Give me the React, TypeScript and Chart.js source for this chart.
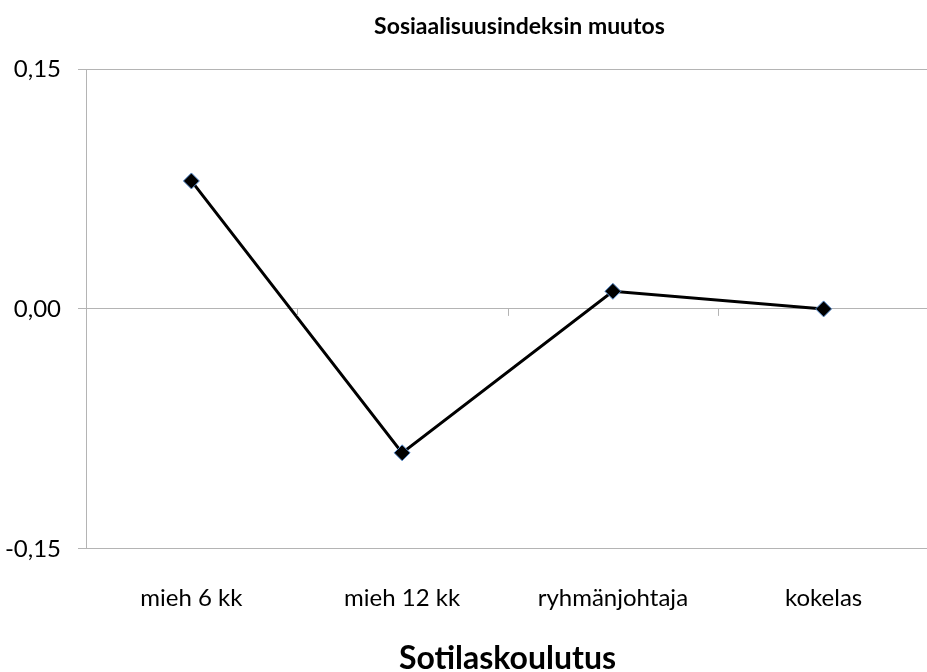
import React, { useEffect, useRef } from "react";
import { Chart, registerables } from "chart.js";

Chart.register(...registerables);

const categories = ["mieh 6 kk", "mieh 12 kk", "ryhmänjohtaja", "kokelas"];
const values = [0.08, -0.09, 0.011, 0.0];
const yTicks = [-0.15, 0, 0.15];
const chartTitle = "Sosiaalisuusindeksin muutos";
const xTitle = "Sotilaskoulutus";

const FONT = "Lato, 'Open Sans', sans-serif";
const GRID = "#b4b4b4";

const zeroTicks = {
  id: "zeroTicks",
  afterDatasetsDraw(chart: any) {
    const x = chart.scales.x;
    const y = chart.scales.y;
    const y0 = y.getPixelForValue(0);
    const ctx = chart.ctx;
    ctx.save();
    ctx.strokeStyle = GRID;
    ctx.lineWidth = 1;
    for (let i = 0; i < categories.length - 1; i++) {
      const xb = (x.getPixelForValue(i) + x.getPixelForValue(i + 1)) / 2;
      ctx.beginPath();
      ctx.moveTo(Math.round(xb) + 0.5, y0);
      ctx.lineTo(Math.round(xb) + 0.5, y0 + 7);
      ctx.stroke();
    }
    ctx.restore();
  },
};

const topTitle = {
  id: "topTitle",
  afterDraw(chart: any) {
    const ctx = chart.ctx;
    const ca = chart.chartArea;
    ctx.save();
    ctx.fillStyle = "#000";
    ctx.font = `bold 23px ${FONT}`;
    ctx.textAlign = "center";
    ctx.textBaseline = "middle";
    ctx.fillText(chartTitle, (ca.left + ca.right) / 2 + 12, 27);
    ctx.restore();
  },
};

export default function App() {
  const ref = useRef<HTMLCanvasElement>(null);
  useEffect(() => {
    document.body.style.margin = "0";
    document.body.style.overflow = "hidden";
    const chart = new Chart(ref.current!, {
      type: "line",
      data: {
        labels: categories,
        datasets: [
          {
            data: values,
            borderColor: "#000000",
            borderWidth: 3,
            pointStyle: "rectRot",
            pointRadius: 8,
            pointBackgroundColor: "#000000",
            pointBorderColor: "#5b8fd0",
            pointBorderWidth: 1,
            tension: 0,
          },
        ],
      },
      options: {
        responsive: false,
        animation: false,
        devicePixelRatio: 1,
        layout: { padding: { left: 0, right: 0, top: 69, bottom: 2 } },
        plugins: {
          legend: { display: false },
          tooltip: { enabled: false },
          title: { display: false },
        },
        scales: {
          x: {
            type: "category",
            offset: true,
            grid: { display: false },
            border: { display: false },
            ticks: {
              color: "#000",
              font: { family: FONT, size: 24, lineHeight: 1.2 },
              padding: 27,
              maxRotation: 0,
            },
            title: {
              display: true,
              text: xTitle,
              color: "#000",
              font: { family: FONT, size: 32, weight: "bold", lineHeight: 1.2 },
              padding: { top: 0, bottom: 0 },
            },
          },
          y: {
            min: -0.15,
            max: 0.15,
            afterBuildTicks(scale: any) {
              scale.ticks = yTicks.map((v) => ({ value: v }));
            },
            afterFit(scale: any) {
              scale.width = 86;
            },
            grid: {
              color: GRID,
              tickLength: 8,
              lineWidth: 1,
            },
            border: { display: true, color: GRID, width: 1 },
            ticks: {
              color: "#000",
              font: { family: FONT, size: 24 },
              padding: 17,
              callback: (v: any) => Number(v).toFixed(2).replace(".", ","),
            },
          },
        },
      },
      plugins: [zeroTicks, topTitle],
    });
    return () => chart.destroy();
  }, []);
  return (
    <div style={{ position: "absolute", left: 0, top: 0, width: 927, height: 672, overflow: "hidden", background: "#fff" }}>
      <canvas ref={ref} width={938} height={680} />
    </div>
  );
}
